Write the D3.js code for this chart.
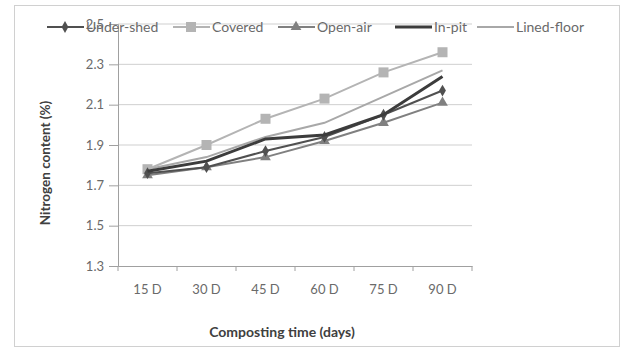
<!DOCTYPE html>
<html><head><meta charset="utf-8">
<script src="https://cdn.jsdelivr.net/npm/d3@7"></script>
<style>body{margin:0;background:#fff}svg{display:block}</style>
</head><body><svg id="c" width="629" height="352"></svg>
<script>
const categories = ["15 D","30 D","45 D","60 D","75 D","90 D"];
const underShed  = [1.76,1.79,1.87,1.94,2.05,2.17];
const covered    = [1.78,1.90,2.03,2.13,2.26,2.36];
const openAir    = [1.75,1.79,1.84,1.92,2.01,2.11];
const inPit      = [1.77,1.82,1.93,1.95,2.05,2.24];
const linedFloor = [1.78,1.84,1.94,2.01,2.14,2.27];
const yTicks = [1.3,1.5,1.7,1.9,2.1,2.3,2.5];
const seriesNames = ["Under-shed","Covered","Open-air","In-pit","Lined-floor"];

const series = [
  {name:seriesNames[0], values:underShed, color:"#505050", width:2, marker:"diamond"},
  {name:seriesNames[1], values:covered, color:"#b4b4b4", width:2, marker:"square"},
  {name:seriesNames[2], values:openAir, color:"#808080", width:2, marker:"triangle"},
  {name:seriesNames[3], values:inPit, color:"#3c3c3c", width:3, marker:null},
  {name:seriesNames[4], values:linedFloor, color:"#a8a8a8", width:2, marker:null}
];

const svg = d3.select("#c");
const font = "Lato, 'Open Sans', sans-serif";
svg.append("rect").attr("x",14.5).attr("y",5.5).attr("width",605).attr("height",341)
  .attr("fill","#fff").attr("stroke","#d0d0d0");

const x = d3.scaleBand().domain(categories).range([118,472]);
const y = d3.scaleLinear().domain([1.3,2.5]).range([266,24]);

// grid
svg.append("g").selectAll("line").data(yTicks.filter(d=>d>1.3)).join("line")
  .attr("x1",118).attr("x2",472).attr("y1",d=>y(d)).attr("y2",d=>y(d))
  .attr("stroke","#cfcfcf").attr("stroke-width",1);

// y axis
const ya = svg.append("g").attr("transform","translate(118,0)")
  .call(d3.axisLeft(y).tickValues(yTicks).tickFormat(d3.format(".1f")).tickSize(9).tickPadding(5));
ya.select(".domain").attr("stroke","#a0a0a0");
ya.selectAll(".tick line").attr("stroke","#a0a0a0");
ya.selectAll("text").attr("fill","#6a6a6a").style("font-family",font).style("font-size","13px");

// x axis
const xa = svg.append("g").attr("transform","translate(0,266)")
  .call(d3.axisBottom(x).tickSize(0).tickPadding(19));
xa.select(".domain").attr("stroke","#a0a0a0");
xa.selectAll("text").attr("fill","#6a6a6a").style("font-family",font).style("font-size","13px");
const bounds = categories.map(c=>x(c)).concat([472]);
svg.append("g").selectAll("line").data(bounds).join("line")
  .attr("x1",d=>d).attr("x2",d=>d).attr("y1",266).attr("y2",271).attr("stroke","#a0a0a0");

const cx = c => x(c)+x.bandwidth()/2;
const line = d3.line().x((d,i)=>cx(categories[i])).y(d=>y(d));

function marker(g, type, px, py, color){
  if(type==="diamond") g.append("path").attr("d",d3.symbol(d3.symbolDiamond,40)()).attr("transform",`translate(${px},${py})`).attr("fill",color);
  else if(type==="square") g.append("rect").attr("x",px-5).attr("y",py-5).attr("width",10).attr("height",10).attr("fill",color);
  else if(type==="triangle") g.append("path").attr("d",d3.symbol(d3.symbolTriangle,50)()).attr("transform",`translate(${px},${py})`).attr("fill",color);
}

const order = [4,1,2,0,3];
order.forEach(k=>{
  const s = series[k];
  const g = svg.append("g");
  g.append("path").attr("d",line(s.values)).attr("fill","none").attr("stroke",s.color).attr("stroke-width",s.width);
  s.values.forEach((v,i)=>marker(g,s.marker,cx(categories[i]),y(v),s.color));
});

// legend
const legX = [47,173,278,395,477];
const leg = svg.append("g");
series.forEach((s,i)=>{
  const x0 = legX[i], ly = 27;
  leg.append("line").attr("x1",x0).attr("x2",x0+37).attr("y1",ly).attr("y2",ly).attr("stroke",s.color).attr("stroke-width",s.width);
  marker(leg,s.marker,x0+18,ly,s.color);
  leg.append("text").attr("x",x0+39).attr("y",ly+5).text(s.name)
    .attr("fill","#6a6a6a").style("font-family",font).style("font-size","14px");
});

// titles
svg.append("text").attr("transform","translate(50,163) rotate(-90)").attr("text-anchor","middle")
  .text("Nitrogen content (%)").attr("fill","#404040").style("font-family",font).style("font-size","13.5px").style("font-weight","bold");
svg.append("text").attr("x",282).attr("y",337).attr("text-anchor","middle")
  .text("Composting time (days)").attr("fill","#404040").style("font-family",font).style("font-size","14px").style("font-weight","bold");
</script></body></html>
